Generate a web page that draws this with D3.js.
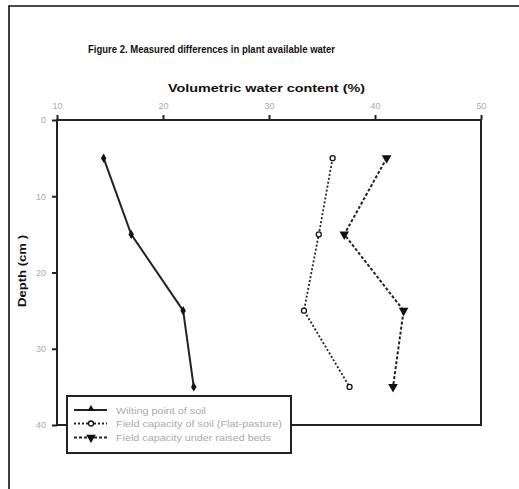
<!DOCTYPE html>
<html><head><meta charset="utf-8">
<script src="https://cdn.jsdelivr.net/npm/d3@7"></script>
<style>body{margin:0;background:#fff}svg{display:block}</style>
</head><body>
<script>
const depths = [5, 15, 25, 35];
const wilting = [14.4, 17.0, 21.9, 22.9];
const fieldCap = [36.0, 34.7, 33.3, 37.6];
const raisedBeds = [41.1, 37.1, 42.7, 41.7];
const xTicks = [10, 20, 30, 40, 50];
const yTicks = [0, 10, 20, 30, 40];
const seriesNames = ["Wilting point of soil", "Field capacity of soil (Flat-pasture)", "Field capacity under raised beds"];

const W = 519, H = 489;
const FONT = "'Liberation Sans', Arial, sans-serif";
const svg = d3.select("body").append("svg").attr("width", W).attr("height", H)
  .style("font-family", FONT);

// outer frame
svg.append("path").attr("d", "M9,489 V6 H519").attr("fill", "none").attr("stroke", "#111").attr("stroke-width", 1.6);

const x = d3.scaleLinear().domain([10, 50]).range([57, 481]);
const y = d3.scaleLinear().domain([0, 40]).range([120, 425]);

svg.append("text").attr("x", 88).attr("y", 53)
  .attr("font-size", 10.5).attr("font-weight", "bold").attr("fill", "#111")
  .attr("textLength", 247).attr("lengthAdjust", "spacingAndGlyphs")
  .text("Figure 2. Measured differences in plant available water");
svg.append("text").attr("x", 168).attr("y", 92)
  .attr("font-size", 11.5).attr("font-weight", "bold").attr("fill", "#111")
  .attr("textLength", 197).attr("lengthAdjust", "spacingAndGlyphs")
  .text("Volumetric water content (%)");
svg.append("text").attr("transform", "translate(26,307) rotate(-90)")
  .attr("font-size", 11).attr("font-weight", "bold").attr("fill", "#111")
  .attr("textLength", 72).attr("lengthAdjust", "spacingAndGlyphs")
  .text("Depth (cm )");

// plot box
svg.append("rect").attr("x", 57).attr("y", 120).attr("width", 424).attr("height", 305)
  .attr("fill", "none").attr("stroke", "#222").attr("stroke-width", 2);

const xAxis = svg.append("g").attr("transform", "translate(0,120)")
  .call(d3.axisTop(x).tickValues(xTicks).tickSize(5).tickPadding(6));
const yAxis = svg.append("g").attr("transform", "translate(57,0)")
  .call(d3.axisLeft(y).tickValues(yTicks).tickSize(5).tickPadding(6));
[xAxis, yAxis].forEach(g => {
  g.select(".domain").remove();
  g.selectAll(".tick line").attr("stroke", "#222").attr("stroke-width", 2);
  g.selectAll(".tick text").attr("fill", "#aaa").attr("font-size", 9).style("font-family", FONT);
});

const line = d3.line().x(d => x(d[0])).y(d => y(d[1]));
const series = [
  {vals: wilting, dash: null, width: 2, marker: "diamond", legMarker: "triup"},
  {vals: fieldCap, dash: "2,2", width: 1.8, marker: "circle", legMarker: "circle"},
  {vals: raisedBeds, dash: "3,2", width: 2, marker: "tri", legMarker: "tri"}
];
function drawMarker(g, type, cx, cy) {
  if (type === "diamond") {
    g.append("path").attr("d", d3.symbol(d3.symbolDiamond, 26)())
      .attr("transform", `translate(${cx},${cy})`).attr("fill", "#111");
  } else if (type === "circle") {
    g.append("circle").attr("cx", cx).attr("cy", cy).attr("r", 2.5)
      .attr("fill", "#fff").attr("stroke", "#111").attr("stroke-width", 1.3);
  } else if (type === "triup") {
    g.append("path").attr("d", d3.symbol(d3.symbolTriangle, 22)())
      .attr("transform", `translate(${cx},${cy - 1})`).attr("fill", "#111");
  } else {
    g.append("path").attr("d", d3.symbol(d3.symbolTriangle, 40)())
      .attr("transform", `translate(${cx},${cy}) rotate(180)`).attr("fill", "#111");
  }
}
series.forEach(s => {
  const pts = s.vals.map((v, i) => [v, depths[i]]);
  svg.append("path").datum(pts).attr("d", line).attr("fill", "none")
    .attr("stroke", "#222").attr("stroke-width", s.width)
    .attr("stroke-dasharray", s.dash);
  const g = svg.append("g");
  pts.forEach(p => drawMarker(g, s.marker, x(p[0]), y(p[1])));
});

// legend
const lg = svg.append("g");
lg.append("rect").attr("x", 67).attr("y", 396).attr("width", 224).attr("height", 57)
  .attr("fill", "#fff").attr("stroke", "#222").attr("stroke-width", 2);
const legY = [410, 423.5, 437.5];
const legLen = [90, 166, 155];
series.forEach((s, i) => {
  lg.append("line").attr("x1", 74).attr("x2", 107).attr("y1", legY[i]).attr("y2", legY[i])
    .attr("stroke", "#222").attr("stroke-width", s.width).attr("stroke-dasharray", s.dash);
  drawMarker(lg, s.legMarker, 91, legY[i]);
  lg.append("text").attr("x", 116).attr("y", legY[i] + 3.5).attr("font-size", 9.5).attr("fill", "#aaa")
    .attr("textLength", legLen[i]).attr("lengthAdjust", "spacingAndGlyphs")
    .text(seriesNames[i]);
});
</script>
</body></html>
